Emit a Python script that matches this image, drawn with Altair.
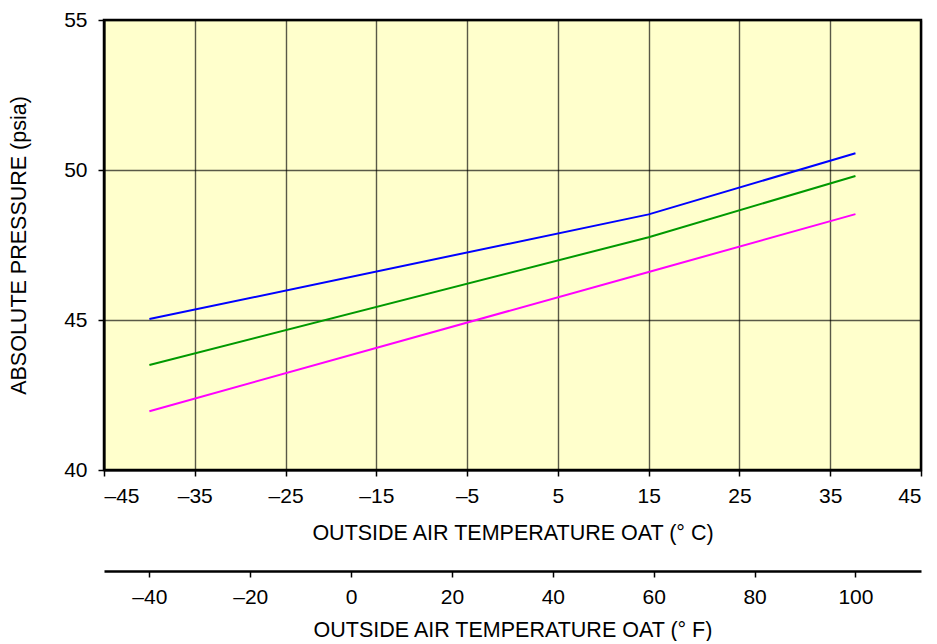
import altair as alt
import pandas as pd

# ---- data ----
temp_c = [-40, 15, 37.78]
blue_vals = [45.03, 48.52, 50.56]
green_vals = [43.50, 47.76, 49.80]
magenta_vals = [41.96, 46.60, 48.53]
series_names = ["Curve 1", "Curve 2", "Curve 3"]
series_colors = ["#0000FF", "#009900", "#FF00FF"]
c_ticks = [-45, -35, -25, -15, -5, 5, 15, 25, 35, 45]
f_ticks = [-40, -20, 0, 20, 40, 60, 80, 100]
p_ticks = [40, 45, 50, 55]

rows = []
for name, vals in zip(series_names, [blue_vals, green_vals, magenta_vals]):
    for t, v in zip(temp_c, vals):
        rows.append({"c": t, "p": v, "s": name})
df = pd.DataFrame(rows)
fdf = pd.DataFrame({"f": f_ticks})

FONT = "Liberation Sans"
LAB = 21
TIT = 21.5
label_expr = "datum.value < 0 ? '\u2013' + abs(datum.value) : '' + datum.value"

lines = alt.Chart(df).mark_line(strokeWidth=2).encode(
    x=alt.X(
        "c:Q",
        scale=alt.Scale(domain=[-45, 45], nice=False, zero=False),
        axis=alt.Axis(
            values=c_ticks,
            title="OUTSIDE AIR TEMPERATURE OAT (\u00b0 C)",
            labelExpr=label_expr,
            grid=True,
            gridColor="black",
            gridOpacity=0.65,
            gridWidth=1.4,
            domainColor="black",
            domainWidth=2,
            tickColor="black",
            tickWidth=1.5,
            tickSize=6,
            labelPadding=9,
            labelFont=FONT,
            labelFontSize=LAB,
            labelColor="black",
            titleFont=FONT,
            titleFontSize=TIT,
            titleFontWeight="normal",
            titleColor="black",
            titlePadding=16,
        ),
    ),
    y=alt.Y(
        "p:Q",
        scale=alt.Scale(domain=[40, 55], nice=False, zero=False),
        axis=alt.Axis(
            values=p_ticks,
            title="ABSOLUTE PRESSURE (psia)",
            grid=True,
            gridColor="black",
            gridOpacity=0.65,
            gridWidth=1.4,
            domainColor="black",
            domainWidth=2,
            tickColor="black",
            tickWidth=1.5,
            tickSize=6,
            labelPadding=11,
            labelFont=FONT,
            labelFontSize=LAB,
            labelColor="black",
            titleFont=FONT,
            titleFontSize=TIT,
            titleFontWeight="normal",
            titleColor="black",
            titlePadding=33,
        ),
    ),
    color=alt.Color(
        "s:N",
        scale=alt.Scale(domain=series_names, range=series_colors),
        legend=None,
    ),
)

faxis = alt.Chart(fdf).mark_point(opacity=0).encode(
    x=alt.X(
        "f:Q",
        scale=alt.Scale(domain=[-49, 113], nice=False, zero=False),
        axis=alt.Axis(
            orient="bottom",
            offset=101,
            values=f_ticks,
            title="OUTSIDE AIR TEMPERATURE OAT (\u00b0 F)",
            labelExpr=label_expr,
            grid=False,
            domainColor="black",
            domainWidth=2.5,
            tickColor="black",
            tickWidth=1.5,
            tickSize=6,
            labelPadding=9,
            labelFont=FONT,
            labelFontSize=LAB,
            labelColor="black",
            titleFont=FONT,
            titleFontSize=TIT,
            titleFontWeight="normal",
            titleColor="black",
            titlePadding=12,
        ),
    ),
    y=alt.value(0),
)

chart = (
    alt.layer(lines, faxis)
    .resolve_scale(x="independent")
    .properties(
        width=817,
        height=450,
        autosize=alt.AutoSizeParams(type="none"),
        padding={"left": 96, "top": 12, "right": 8, "bottom": 171},
    )
    .configure_view(fill="#FFFFCC", stroke="black", strokeWidth=2.5)
)

chart.save("out.html", embed_options={"renderer": "svg", "actions": False})
